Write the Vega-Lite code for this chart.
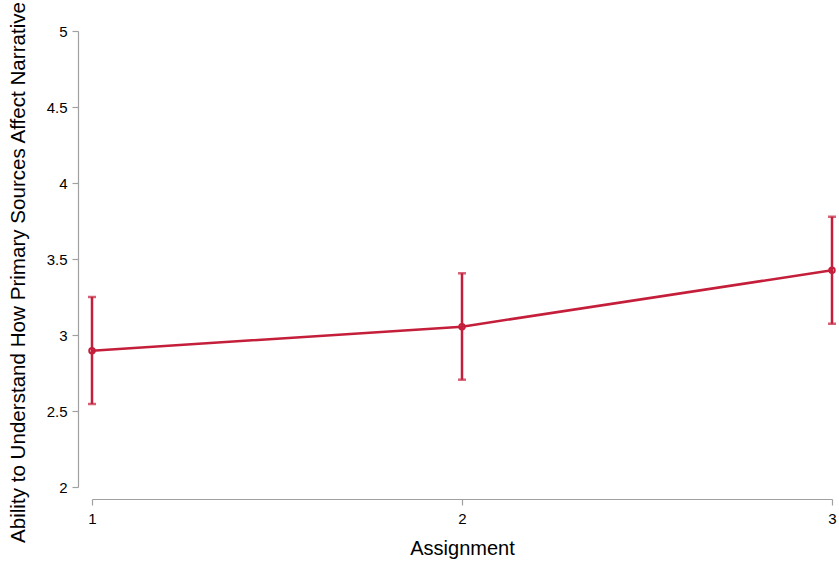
{
  "$schema": "https://vega.github.io/schema/vega-lite/v6.json",
  "width": 740,
  "height": 456,
  "autosize": {"type": "none"},
  "padding": {"left": 92, "top": 31, "right": 7, "bottom": 75},
  "background": "white",
  "config": {
    "view": {"stroke": null},
    "font": "Liberation Sans",
    "axis": {
      "domainColor": "#a0a0a0",
      "tickColor": "#a0a0a0",
      "grid": false,
      "labelColor": "#000000",
      "labelFontSize": 15,
      "titleFontSize": 20,
      "titleFontWeight": "normal",
      "titleColor": "#000000",
      "tickSize": 6,
      "domainWidth": 1.2,
      "tickWidth": 1.2,
      "labelFlush": false,
      "labelOverlap": false
    }
  },
  "data": {
    "values": [
      {"assignment": 1, "mean": 2.897, "lo": 2.546, "hi": 3.25},
      {"assignment": 2, "mean": 3.055, "lo": 2.706, "hi": 3.406},
      {"assignment": 3, "mean": 3.426, "lo": 3.074, "hi": 3.778}
    ]
  },
  "encoding": {
    "x": {
      "field": "assignment",
      "type": "quantitative",
      "scale": {"domain": [1, 3], "nice": false, "zero": false},
      "axis": {"values": [1, 2, 3], "title": "Assignment", "offset": 12, "labelPadding": 6, "titlePadding": 12, "format": "~g"}
    }
  },
  "layer": [
    {
      "mark": {"type": "rule", "color": "#c41e3a", "strokeWidth": 2.5},
      "encoding": {
        "y": {
          "field": "lo",
          "type": "quantitative",
          "scale": {"domain": [2, 5], "nice": false, "zero": false},
          "axis": {"values": [2, 2.5, 3, 3.5, 4, 4.5, 5], "format": "~g", "title": "Ability to Understand How Primary Sources Affect Narrative", "titleFontSize": 20.6, "titleY": 241, "offset": 14, "labelPadding": 5, "titlePadding": 18}
        },
        "y2": {"field": "hi"}
      }
    },
    {
      "mark": {"type": "tick", "color": "#c41e3a", "orient": "horizontal", "size": 8, "thickness": 2.5},
      "encoding": {"y": {"field": "lo", "type": "quantitative"}}
    },
    {
      "mark": {"type": "tick", "color": "#c41e3a", "orient": "horizontal", "size": 8, "thickness": 2.5},
      "encoding": {"y": {"field": "hi", "type": "quantitative"}}
    },
    {
      "mark": {"type": "line", "color": "#c41e3a", "strokeWidth": 2.5},
      "encoding": {"y": {"field": "mean", "type": "quantitative"}}
    },
    {
      "mark": {"type": "point", "color": "#c41e3a", "filled": false, "strokeWidth": 2, "size": 30, "opacity": 1},
      "encoding": {"y": {"field": "mean", "type": "quantitative"}}
    }
  ]
}
